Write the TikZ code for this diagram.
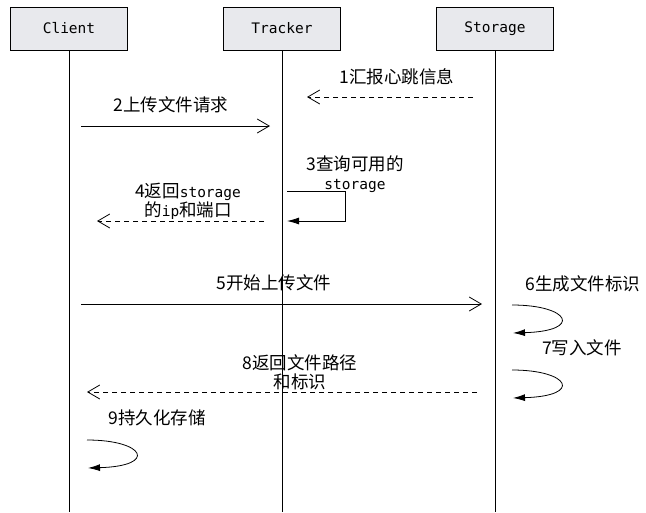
\documentclass[tikz,border=0pt]{standalone}
\usepackage{fontspec}
\usetikzlibrary{arrows.meta}
\setmainfont{Noto Sans CJK SC}
\setmonofont{DejaVu Sans Mono}
\newcommand{\mono}[1]{{\fontsize{14.5pt}{19pt}\ttfamily #1}}
\definecolor{boxgray}{RGB}{232,233,237}

\begin{document}
\begin{tikzpicture}[x=1pt, y=-1pt, line width=0.8pt,
    actor/.style={draw, fill=boxgray, minimum width=117pt, minimum height=43pt, font=\fontsize{14.5pt}{17pt}\ttfamily},
    msg/.style={font=\fontsize{17.5pt}{19pt}\selectfont, align=center, inner sep=0pt},
    call/.style={-{Straight Barb[length=12pt, width=14pt]}},
    reply/.style={call, dash pattern=on 5pt off 4pt},
    self/.style={-{Latex[length=12pt, width=7pt]}}]
    \useasboundingbox (0,0) rectangle (646,512);

    \node [actor] (client) at (69,28.5) {Client};
    \node [actor] (tracker) at (282,28.5) {Tracker};
    \node [actor] (storage) at (495,28.5) {Storage};
    \coordinate (bottom) at (0,512);
    \foreach \a in {client, tracker, storage}
        \draw (\a.south) -- (\a.south |- bottom);

    \coordinate (m1a) at (473,97);  \coordinate (m1b) at (307,97);
    \coordinate (m2a) at (81,126);  \coordinate (m2b) at (270,126);
    \coordinate (m3a) at (287,191); \coordinate (m3b) at (287,221);
    \coordinate (m4a) at (264,221); \coordinate (m4b) at (97,221);
    \coordinate (m5a) at (81,304);  \coordinate (m5b) at (482,304);
    \coordinate (m6a) at (512,305); \coordinate (m6b) at (513,333);
    \coordinate (m7a) at (512,370); \coordinate (m7b) at (513,398);
    \coordinate (m8a) at (477,392); \coordinate (m8b) at (87,392);
    \coordinate (m9a) at (87,440);  \coordinate (m9b) at (88,468);

    \draw [reply] (m1a) -- (m1b);
    \node [msg] (l1) at (397,77) {1汇报心跳信息};
    \draw [call] (m2a) -- (m2b);
    \node [msg] (l2) at (171,105) {2上传文件请求};
    \draw [self] (m3a) -- ++(58,0) -- ++(0,30) -- (m3b);
    \node [msg] (l3) at (355,174) {3查询可用的\\\mono{storage}};
    \draw [reply] (m4a) -- (m4b);
    \node [msg] (l4) at (188,201.5) {4返回\mono{storage}\\的\mono{ip}和端口};
    \draw [call] (m5a) -- (m5b);
    \node [msg] (l5) at (274,283) {5开始上传文件};
    \draw [self] (m6a) .. controls +(58,0) and +(70,-2) .. (m6b);
    \node [msg] (l6) at (583,284) {6生成文件标识};
    \draw [self] (m7a) .. controls +(58,0) and +(70,-2) .. (m7b);
    \node [msg] (l7) at (582,348) {7写入文件};
    \draw [reply] (m8a) -- (m8b);
    \node [msg] (l8) at (300,372) {8返回文件路径\\和标识};
    \draw [self] (m9a) .. controls +(58,0) and +(70,-2) .. (m9b);
    \node [msg] (l9) at (157,418) {9持久化存储};
\end{tikzpicture}
\end{document}
